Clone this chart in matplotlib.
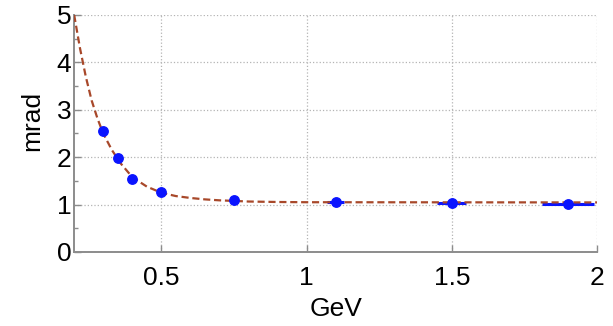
import matplotlib.pyplot as plt
from matplotlib.ticker import MultipleLocator

plt.rcParams['font.family'] = ['Liberation Sans', 'DejaVu Sans']

# measured points (GeV, mrad) with half-width of energy bin
energia = [0.30, 0.35, 0.40, 0.50, 0.75, 1.10, 1.50, 1.90]
angulo = [2.55, 1.98, 1.55, 1.27, 1.09, 1.06, 1.04, 1.02]
erro_e = [0.0, 0.0, 0.0, 0.0, 0.01, 0.03, 0.05, 0.09]

# fitted curve, sampled
curva_x = [0.20, 0.22, 0.24, 0.26, 0.28, 0.30, 0.33, 0.36, 0.40, 0.45,
           0.50, 0.55, 0.60, 0.65, 0.70, 0.80, 0.90, 1.00, 1.50, 2.00]
curva_y = [5.00, 4.30, 3.70, 3.20, 2.82, 2.50, 2.15, 1.87, 1.58, 1.38,
           1.25, 1.18, 1.14, 1.11, 1.09, 1.065, 1.055, 1.05, 1.048, 1.046]

cinza = '#8c8c8c'

fig = plt.figure(figsize=(6.13, 3.26), dpi=100)
ax = fig.add_axes([0.121, 0.227, 0.853, 0.727])

ax.errorbar(energia, angulo, xerr=erro_e, fmt='none', ecolor='#0a14ff',
            elinewidth=2.2, capsize=0, zorder=2)
linha, = ax.plot(curva_x, curva_y, color='#a8482a', lw=1.6, zorder=3)
linha.set_dashes([3.2, 1.7])
ax.plot(energia, angulo, 'o', color='#0a14ff', ms=6.8, zorder=4)

ax.set_xlim(0.2, 2)
ax.set_ylim(0, 5)
ax.yaxis.set_major_locator(MultipleLocator(1))
ax.yaxis.set_minor_locator(MultipleLocator(0.5))
ax.set_xticks([0.5, 1, 1.5, 2])
ax.set_xticklabels(['0.5', '1', '1.5', '2'])

ax.grid(True, color='#b4b4b4', linestyle=':', linewidth=0.9)
ax.set_axisbelow(True)

for lado in ['top', 'right']:
    ax.spines[lado].set_visible(False)
for lado in ['left', 'bottom']:
    ax.spines[lado].set_color(cinza)
    ax.spines[lado].set_linewidth(1.4)

ax.tick_params(which='both', direction='in', colors=cinza, labelcolor='black',
               labelsize=19)
ax.tick_params(which='major', length=5, width=1)
ax.tick_params(which='minor', length=3, width=1)
ax.tick_params(axis='y', pad=2)
ax.tick_params(axis='x', pad=10)

ax.set_xlabel('GeV', fontsize=19, labelpad=5)
ax.set_ylabel('mrad', fontsize=19)
ax.yaxis.set_label_coords(-0.058, 0.555)

fig.savefig('out.png', dpi=100)
